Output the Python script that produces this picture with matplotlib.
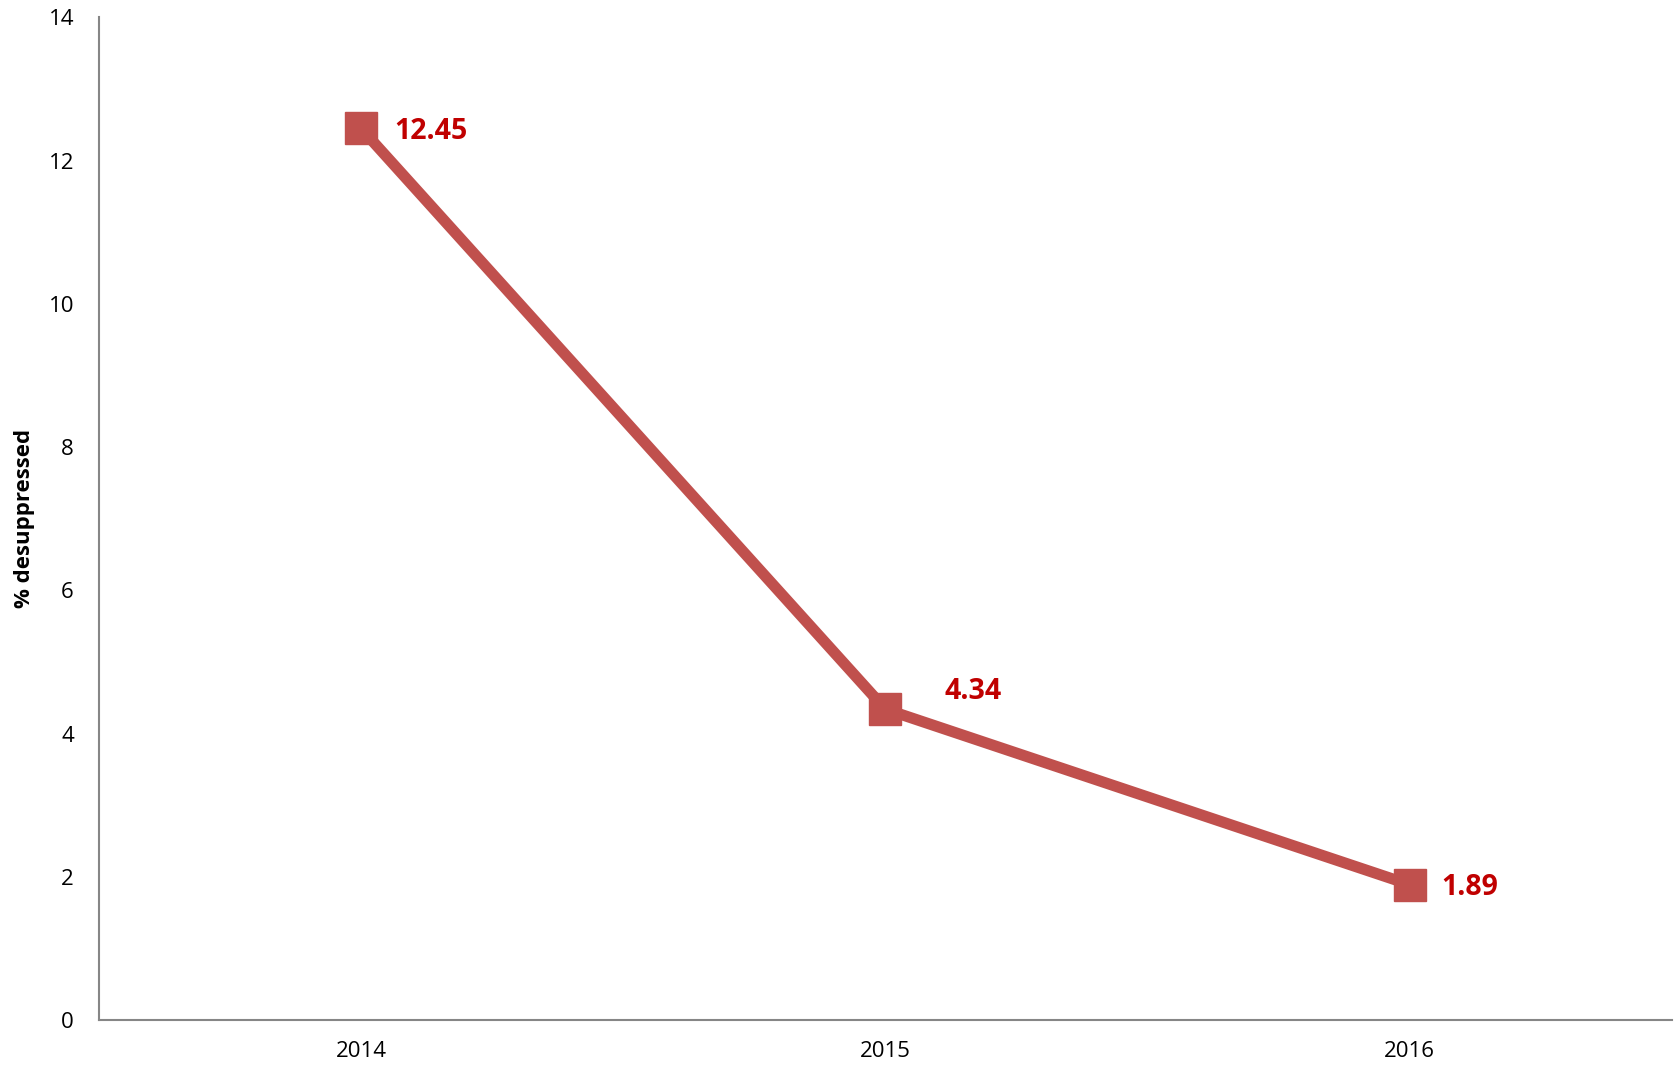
import matplotlib.pyplot as plt

plt.rcParams["font.family"] = ["Open Sans", "DejaVu Sans"]

years = ["2014", "2015", "2016"]
pct_desuppressed = [12.45, 4.34, 1.89]
label_offsets = [(33, -3), (59, 18), (32, -3)]  # pixels right / up of each point

fig = plt.figure(figsize=(16.77, 10.70), dpi=100)
ax = fig.add_axes([0.059, 0.0467, 0.938, 0.937])

x = range(len(years))
ax.plot(x, pct_desuppressed, color="#C0504D", linewidth=8,
        marker="s", markersize=23, markeredgecolor="#C0504D",
        markerfacecolor="#C0504D")

for i, v in enumerate(pct_desuppressed):
    dx, dy = label_offsets[i]
    ax.annotate(f"{v:.2f}", (i, v), xytext=(dx * 0.72, dy * 0.72),
                textcoords="offset points", ha="left", va="center",
                fontsize=20.5, fontweight="bold", color="#C00000")

ax.set_xlim(-0.5, 2.5)
ax.set_ylim(0, 14)
ax.set_xticks(list(x))
ax.set_xticklabels(years)
ax.set_yticks(range(0, 15, 2))
ax.tick_params(axis="both", length=0, labelsize=16)
ax.tick_params(axis="y", pad=18)
ax.tick_params(axis="x", pad=15)

for side in ["top", "right"]:
    ax.spines[side].set_visible(False)
for side in ["left", "bottom"]:
    ax.spines[side].set_color("#868686")
    ax.spines[side].set_linewidth(1.5)

ax.set_ylabel("% desuppressed", fontsize=16, fontweight="bold", labelpad=10)

fig.savefig("out.png", dpi=100)
